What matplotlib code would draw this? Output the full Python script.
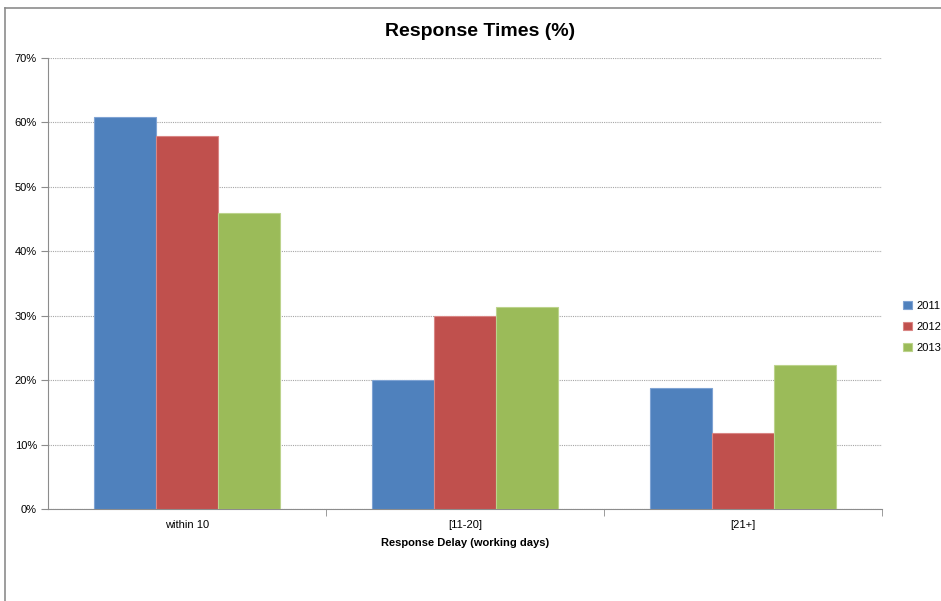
import matplotlib.pyplot as plt
import numpy as np
from matplotlib.lines import Line2D

# Chart data
categories = ["within 10", "[11-20]", "[21+]"]
years = ["2011", "2012", "2013"]
values_2011 = [60.9, 20.0, 18.8]
values_2012 = [57.9, 30.0, 11.8]
values_2013 = [46.0, 31.4, 22.3]
yticks = [0, 10, 20, 30, 40, 50, 60, 70]

colors = ["#4F81BD", "#C0504D", "#9BBB59"]
edges = ["#7FA3D3", "#D98684", "#BCD38C"]

plt.rcParams['font.family'] = ['Liberation Sans Narrow', 'Liberation Sans', 'DejaVu Sans']

fig = plt.figure(figsize=(9.41, 6.01), dpi=100)
ax = fig.add_axes([48/941, 92/601, (882-48)/941, (509-58)/601])

# Outer chart border (top and left edges visible)
fig.add_artist(Line2D([5/941, 1], [1-8/601, 1-8/601], color="#8c8c8c", lw=1.2))
fig.add_artist(Line2D([5/941, 5/941], [0, 1-8/601], color="#8c8c8c", lw=1.2))

x = np.arange(len(categories))
w = 1/4.5
series = [values_2011, values_2012, values_2013]
for i, (vals, yr) in enumerate(zip(series, years)):
    ax.bar(x + (i-1)*w, vals, width=w, color=colors[i], edgecolor=edges[i],
           linewidth=0.8, label=yr, zorder=3)

ax.set_xlim(-0.5, 2.5)
ax.set_ylim(0, 70)
ax.set_yticks(yticks)
ax.set_yticklabels([f"{t}%" for t in yticks], fontsize=8)
ax.yaxis.grid(True, linestyle=(0, (1, 1)), color="#a6a6a6", linewidth=0.8, zorder=0)

ax.set_xticks(x)
ax.set_xticklabels(categories, fontsize=8)
ax.set_xticks([0.5, 1.5, 2.5], minor=True)
ax.tick_params(axis='x', which='major', length=0, pad=8)
ax.tick_params(axis='x', which='minor', length=5, color="#8c8c8c")
ax.tick_params(axis='y', length=5, color="#8c8c8c", pad=3)

for s in ["top", "right"]:
    ax.spines[s].set_visible(False)
for s in ["left", "bottom"]:
    ax.spines[s].set_color("#8c8c8c")

ax.set_xlabel("Response Delay (working days)", fontsize=8, fontweight="bold", labelpad=6)
fig.text(480/941, 1-31/601, "Response Times (%)", ha="center", va="center",
         fontsize=14, fontweight="bold")

ax.legend(loc="center left", bbox_to_anchor=(1.025, 0.404), frameon=False,
          fontsize=8, handlelength=0.8, handleheight=0.8, handletextpad=0.4,
          labelspacing=1.0, borderpad=0, borderaxespad=0)

fig.savefig("out.png", dpi=100)
